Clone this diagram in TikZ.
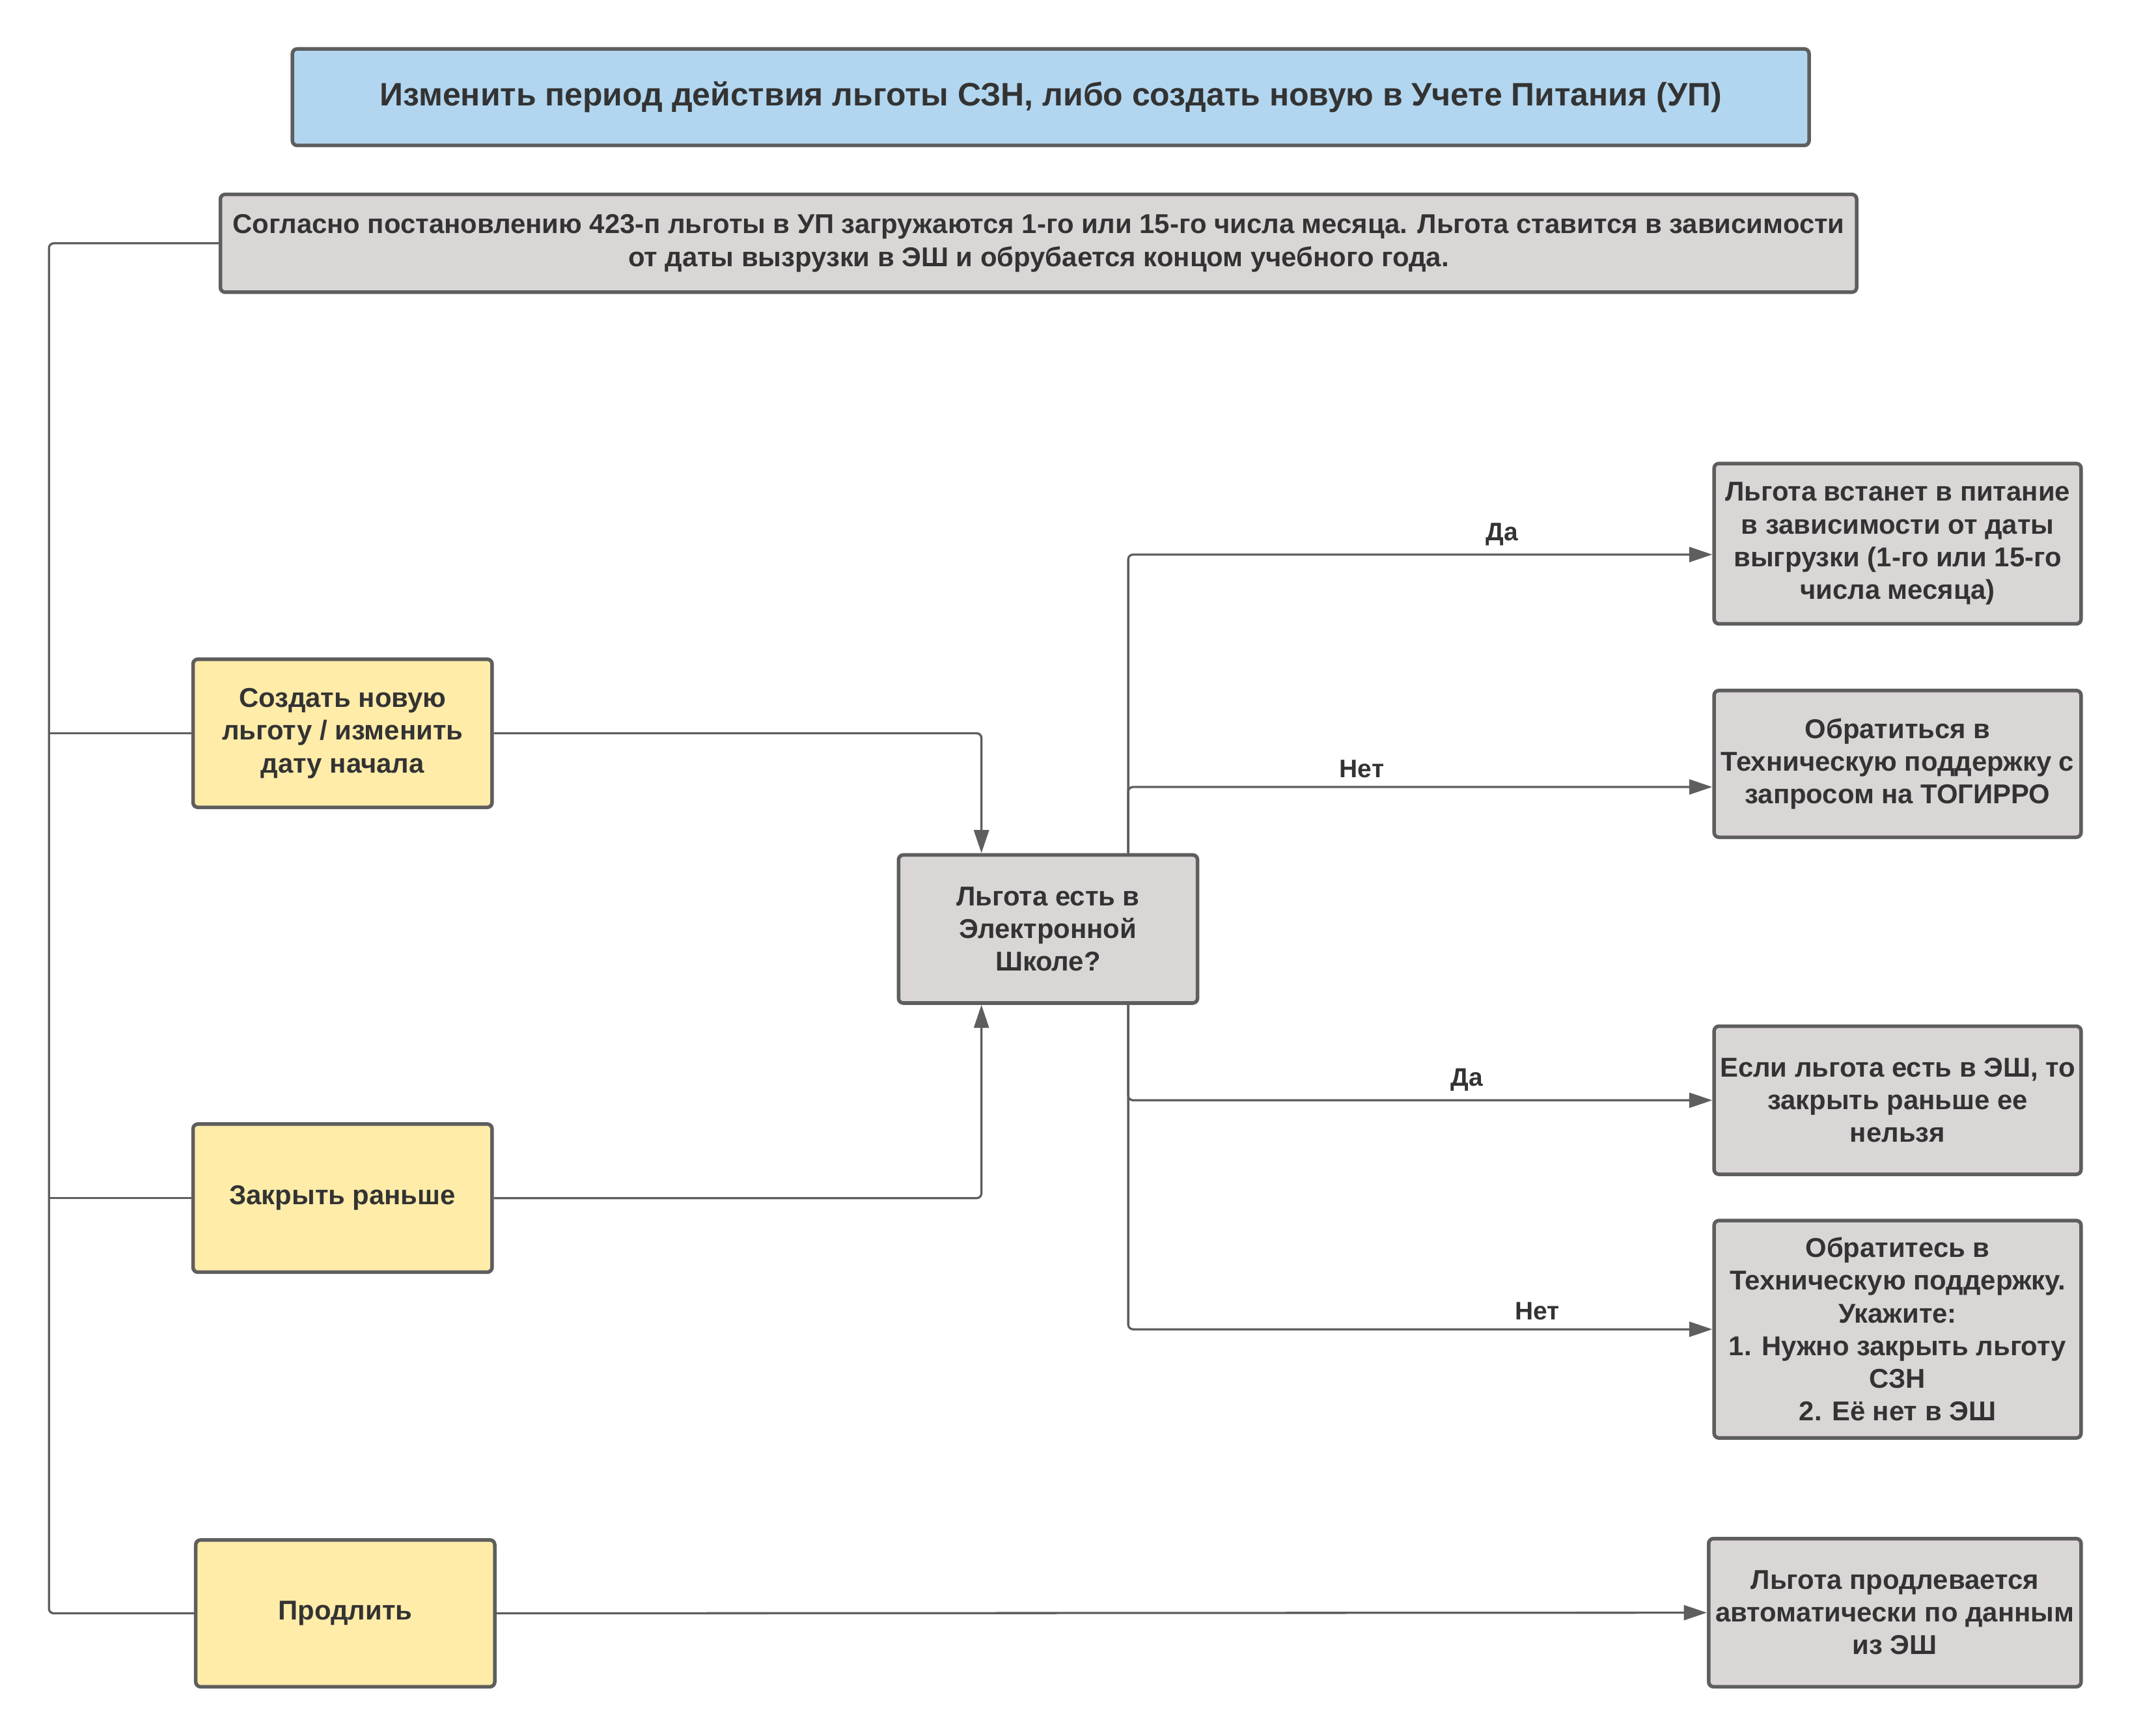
\documentclass[tikz,border=0pt]{standalone}
\usepackage{fontspec}
\setmainfont{Liberation Sans}
\usetikzlibrary{arrows.meta}
\definecolor{linecolor}{HTML}{5E5E5E}
\definecolor{textcolor}{HTML}{333333}
\definecolor{bluefill}{HTML}{B2D6EF}
\definecolor{grayfill}{HTML}{D9D6D5}
\definecolor{yellowfill}{HTML}{FFECA9}
\newcommand{\boxfont}{\bfseries\fontsize{11.4}{13.7}\selectfont}
\newcommand{\lblfont}{\bfseries\fontsize{10.6}{13}\selectfont}

\begin{document}
\begin{tikzpicture}[x=0.02cm, y=-0.02cm,
        box/.style={draw=linecolor, line width=1.5pt, rounded corners=2pt, align=center,
            text=textcolor, font=\boxfont, inner sep=0pt},
        conn/.style={draw=linecolor, line width=0.9pt, rounded corners=2pt},
        tip/.style={-{Triangle[length=0.34cm, width=0.22cm]}},
        lbl/.style={above, text=textcolor, font=\lblfont}]
        \useasboundingbox (0,0) rectangle (1567,1276.8);

        \node (T) [box, fill=bluefill, minimum width=22.32cm, minimum height=1.42cm,
            font=\bfseries\fontsize{13.6}{16}\selectfont] at (773,71.5)
            {Изменить период действия льготы СЗН, либо создать новую в Учете Питания (УП)};
        \node (N) [box, fill=grayfill, minimum width=24.08cm, minimum height=1.44cm] at (764,179)
            {Согласно постановлению 423-п льготы в УП загружаются 1-го или 15-го числа месяца. Льгота ставится в зависимости\\
            от даты вызрузки в ЭШ и обрубается концом учебного года.};

        % actions
        \node (C) [box, fill=yellowfill, minimum width=4.4cm, minimum height=2.18cm] at (252,539.5)
            {Создать новую\\льготу / изменить\\дату начала};
        \node (Z) [box, fill=yellowfill, minimum width=4.4cm, minimum height=2.18cm] at (252,881.5)
            {Закрыть раньше};
        \node (P) [box, fill=yellowfill, minimum width=4.4cm, minimum height=2.16cm] at (254,1187)
            {Продлить};

        \node (Q) [box, fill=grayfill, minimum width=4.4cm, minimum height=2.18cm] at (771,683.5)
            {Льгота есть в\\Электронной\\Школе?};

        % results
        \node (R1) [box, fill=grayfill, minimum width=5.4cm, minimum height=2.36cm] at (1396,400)
            {Льгота встанет в питание\\в зависимости от даты\\выгрузки (1-го или 15-го\\числа месяца)};
        \node (R2) [box, fill=grayfill, minimum width=5.4cm, minimum height=2.16cm] at (1396,562)
            {Обратиться в\\Техническую поддержку с\\запросом на ТОГИРРО};
        \node (R3) [box, fill=grayfill, minimum width=5.4cm, minimum height=2.18cm] at (1396,809.5)
            {Если льгота есть в ЭШ, то\\закрыть раньше ее\\нельзя};
        \node (R4) [box, fill=grayfill, minimum width=5.4cm, minimum height=3.2cm] at (1396,978)
            {Обратитесь в\\Техническую поддержку.\\Укажите:\\1. Нужно закрыть льготу\\СЗН\\2. Её нет в ЭШ};
        \node (R5) [box, fill=grayfill, minimum width=5.48cm, minimum height=2.18cm] at (1394,1186.5)
            {Льгота продлевается\\автоматически по данным\\из ЭШ};

        \coordinate (L) at (36,0);
        \draw[conn] (N.west) -| (L |- P.west) -- (P.west);
        \draw[conn] (L |- C.west) -- (C.west);
        \draw[conn] (L |- Z.west) -- (Z.west);

        \draw[conn, tip] (C.east) -| ([xshift=-0.98cm]Q.north);
        \draw[conn, tip] (Z.east) -| ([xshift=-0.98cm]Q.south);

        \draw[conn, tip] ([xshift=1.18cm]Q.north) |- node[lbl, pos=0.82] {Да} ([yshift=-0.16cm]R1.west);
        \draw[conn, tip] ([xshift=1.18cm]Q.north) |- node[lbl, pos=0.70] {Нет} ([yshift=-0.34cm]R2.west);
        \draw[conn, tip] ([xshift=1.18cm]Q.south) |- node[lbl, pos=0.79] {Да} (R3.west);
        \draw[conn, tip] ([xshift=1.18cm]Q.south) |- node[lbl, pos=0.85] {Нет} (R4.west);

        \draw[conn, tip] (P.east) -- (R5.west);
    \end{tikzpicture}
\end{document}
